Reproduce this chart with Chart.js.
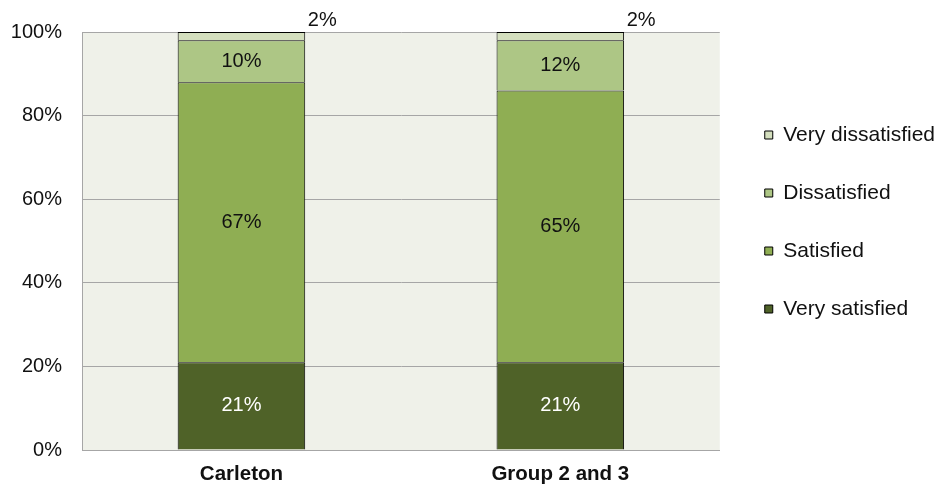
<!DOCTYPE html>
<html>
<head>
<meta charset="utf-8">
<script src="https://cdn.jsdelivr.net/npm/chart.js@4.4.0/dist/chart.umd.min.js"></script>
<style>
  html, body { margin: 0; padding: 0; background: #fff; }
  #wrap { width: 940px; height: 487px; position: relative; }
</style>
</head>
<body>
<div id="wrap"><canvas id="satChart"></canvas></div>
<script>
// data
const categories = ['Carleton', 'Group 2 and 3'];
const verySatisfied = [21, 21];
const satisfied = [67, 65];
const dissatisfied = [10, 12];
const veryDissatisfied = [2, 2];
const yTickLabels = ['0%', '20%', '40%', '60%', '80%', '100%'];

const FONT = "'Liberation Sans', Arial, sans-serif";

// light plot background
const plotBg = {
  id: 'plotBg',
  beforeDraw(chart) {
    const a = chart.chartArea;
    const ctx = chart.ctx;
    ctx.save();
    ctx.fillStyle = '#eff1e9';
    ctx.fillRect(a.left, a.top, a.right - a.left, a.bottom - a.top);
    ctx.restore();
  }
};

// nudge the legend up and right, like the original
const legendShift = {
  id: 'legendShift',
  afterLayout(chart) {
    const lg = chart.legend;
    if (!lg) return;
    lg.top -= 37;
    lg.bottom -= 37;
    lg.left += 8;
    lg.right += 8;
  }
};

// value labels inside the segments, the small top one sits outside
const valueLabels = {
  id: 'valueLabels',
  afterDatasetsDraw(chart) {
    const ctx = chart.ctx;
    ctx.save();
    ctx.font = '20px ' + FONT;
    ctx.textAlign = 'center';
    ctx.textBaseline = 'middle';
    const last = chart.data.datasets.length - 1;
    chart.data.datasets.forEach((ds, i) => {
      const meta = chart.getDatasetMeta(i);
      meta.data.forEach((bar, j) => {
        const txt = ds.data[j] + '%';
        if (i === last) {
          ctx.fillStyle = '#111';
          ctx.fillText(txt, bar.x + bar.width / 2 + 17, bar.y - 12);
        } else {
          ctx.fillStyle = i === 0 ? '#ffffff' : '#111';
          ctx.fillText(txt, bar.x, (bar.y + bar.base) / 2);
        }
      });
    });
    ctx.restore();
  }
};

const ctx = document.getElementById('satChart').getContext('2d');
const satChart = new Chart(ctx, {
  type: 'bar',
  data: {
    labels: categories,
    datasets: [
      { label: 'Very satisfied', data: verySatisfied, backgroundColor: '#4f6228' },
      { label: 'Satisfied', data: satisfied, backgroundColor: '#8fae53' },
      { label: 'Dissatisfied', data: dissatisfied, backgroundColor: '#adc685' },
      { label: 'Very dissatisfied', data: veryDissatisfied, backgroundColor: '#d4dfbe' }
    ].map(d => Object.assign(d, {
      borderColor: '#000',
      borderWidth: 1,
      barPercentage: 0.4,
      categoryPercentage: 1
    }))
  },
  options: {
    responsive: true,
    maintainAspectRatio: false,
    animation: false,
    layout: { padding: { left: 11, top: 32, right: 3, bottom: 1 } },
    plugins: {
      tooltip: { enabled: false },
      legend: {
        position: 'right',
        reverse: true,
        labels: {
          boxWidth: 8,
          boxHeight: 8,
          padding: 37,
          color: '#111',
          font: { family: FONT, size: 21 }
        }
      }
    },
    scales: {
      x: {
        stacked: true,
        grid: { display: false, drawTicks: false },
        border: { display: true, color: '#a6a6a6', width: 1 },
        ticks: {
          padding: 12,
          color: '#111',
          font: { family: FONT, size: 20.5, weight: 'bold' }
        },
        afterFit(scale) { scale.height = 36; }
      },
      y: {
        stacked: true,
        min: 0,
        max: 100,
        grid: { color: '#a6a6a6', drawTicks: false },
        border: { display: true, color: '#a6a6a6', width: 1 },
        ticks: {
          stepSize: 20,
          padding: 20,
          color: '#111',
          font: { family: FONT, size: 20 },
          callback: (v, i) => yTickLabels[i]
        },
        afterFit(scale) { scale.width = 71; }
      }
    }
  },
  plugins: [plotBg, legendShift, valueLabels]
});
</script>
</body>
</html>
